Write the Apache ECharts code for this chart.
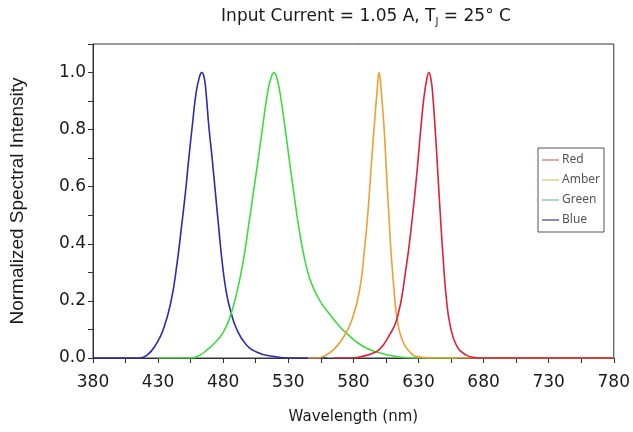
<!DOCTYPE html>
<html>
<head>
<meta charset="utf-8">
<script src="https://cdn.jsdelivr.net/npm/echarts@6/dist/echarts.min.js"></script>
<style>
html,body{margin:0;padding:0;background:#fff;}
#c{width:633px;height:432px;}
</style>
</head>
<body>
<div id="c"></div>
<script>
// Series names
const seriesNames = ['Red', 'Amber', 'Green', 'Blue'];

// Blue spectrum (wavelength nm, normalized intensity)
const blueX = [380, 416, 422, 428, 434, 440, 444.5, 448, 451, 453.6, 456.2, 459.2, 461.8, 463.5, 465.3, 466.8, 469, 471.5, 474, 476.5, 479, 482.4, 486, 490, 496.8, 506, 518, 531, 560];
const blueY = [0, 0, 0.012, 0.045, 0.1, 0.2, 0.33, 0.46, 0.58, 0.70, 0.81, 0.93, 0.985, 1.0, 0.985, 0.93, 0.81, 0.70, 0.58, 0.46, 0.345, 0.23, 0.16, 0.105, 0.052, 0.02, 0.006, 0, 0];

// Green spectrum
const greenX = [430, 455, 462, 468, 474, 480, 485, 490.5, 495.6, 499.4, 503.2, 507, 510.3, 514.1, 517, 519, 521, 523.6, 527.4, 530.6, 534.2, 538, 542.6, 546, 550, 555, 562, 568, 574.4, 587, 600, 612, 625, 660];
const greenY = [0, 0, 0.01, 0.03, 0.055, 0.09, 0.14, 0.23, 0.345, 0.46, 0.58, 0.70, 0.81, 0.93, 0.985, 1.0, 0.985, 0.93, 0.81, 0.70, 0.58, 0.46, 0.345, 0.285, 0.238, 0.195, 0.152, 0.118, 0.088, 0.042, 0.018, 0.006, 0, 0];

// Amber spectrum
const amberX = [545, 552, 558, 565, 572, 579, 585, 588.5, 591, 594, 596.5, 598.3, 599.7, 601.3, 603.5, 605.3, 607, 608.8, 611, 613.5, 617.5, 624, 630, 640, 780];
const amberY = [0, 0, 0.008, 0.03, 0.07, 0.135, 0.245, 0.38, 0.5, 0.69, 0.84, 0.94, 1.0, 0.94, 0.81, 0.66, 0.52, 0.38, 0.25, 0.14, 0.064, 0.018, 0.004, 0, 0];

// Red spectrum
const redX = [565, 578, 586, 594, 600, 607, 613.7, 620, 625, 629, 631.5, 634, 636.3, 638, 639.6, 640.8, 643, 645, 647, 649, 651.5, 654.5, 659.6, 666, 673, 680, 780];
const redY = [0, 0, 0.005, 0.015, 0.03, 0.075, 0.14, 0.30, 0.48, 0.66, 0.79, 0.905, 0.975, 1.0, 0.975, 0.93, 0.79, 0.637, 0.485, 0.345, 0.205, 0.111, 0.04, 0.012, 0.002, 0, 0];

// Axis ticks
const xTickMin = 380, xTickMax = 780, xTickStep = 25, xLabelStep = 50;
const yTickMin = 0, yTickMax = 1.1, yTickStep = 0.1;

// Title
const titleText = 'Input Current = 1.05 A, T{s|J} = 25° C';

const colors = {Red: '#e0203a', Amber: '#efa02e', Green: '#3ddc3d', Blue: '#2b2bb0'};
const legendColors = {Red: '#d86a6a', Amber: '#e8c060', Green: '#70c890', Blue: '#3c3c98'};

function pairs(xs, ys) { return xs.map((x, i) => [x, ys[i]]); }
const dataMap = {
  Red: pairs(redX, redY),
  Amber: pairs(amberX, amberY),
  Green: pairs(greenX, greenY),
  Blue: pairs(blueX, blueY)
};

const fontH = '"DejaVu Sans", sans-serif';
const fontV = '"Liberation Sans", Arial, sans-serif';
const chart = echarts.init(document.getElementById('c'), null, {renderer: 'canvas'});

const drawOrder = ['Blue', 'Green', 'Amber', 'Red'];

chart.setOption({
  backgroundColor: '#ffffff',
  animation: false,
  graphic: [{
    type: 'text', x: 366, y: 17,
    style: {
      text: titleText, textAlign: 'center', textVerticalAlign: 'middle',
      font: '17px ' + fontH, fill: '#1a1a1a',
      rich: { s: { fontFamily: fontH, fontSize: 10, fill: '#1a1a1a', padding: [10, 0, 0, 0] } }
    }
  }],
  legend: {
    orient: 'vertical',
    left: 538, top: 148,
    data: seriesNames.map(n => ({ name: n, itemStyle: { color: legendColors[n] } })),
    icon: 'rect',
    itemWidth: 17, itemHeight: 1.2,
    itemGap: 6,
    padding: [5, 4, 5, 4],
    borderColor: '#555', borderWidth: 1,
    textStyle: { fontFamily: '"Noto Sans", "DejaVu Sans", sans-serif', fontSize: 12, color: '#555', lineHeight: 14, padding: [0, 0, 0, -2] }
  },
  grid: { left: 92, right: 16, top: 44, bottom: 74, show: true, borderColor: '#333', borderWidth: 1 },
  xAxis: {
    type: 'value', min: xTickMin, max: xTickMax, interval: xTickStep,
    name: 'Wavelength (nm)', nameLocation: 'middle', nameGap: 52,
    nameTextStyle: { fontFamily: fontH, fontSize: 15, color: '#1a1a1a' },
    axisLine: { show: true, onZero: false, lineStyle: { color: '#333', width: 1 } },
    axisTick: { show: true, inside: false, length: 5, lineStyle: { color: '#333' } },
    axisLabel: {
      fontFamily: fontH, fontSize: 17, color: '#1a1a1a', margin: 16,
      formatter: v => ((v - xTickMin) % xLabelStep === 0 ? String(v) : '')
    },
    splitLine: { show: false }
  },
  yAxis: {
    type: 'value', min: yTickMin, max: yTickMax, interval: yTickStep,
    name: 'Normalized Spectral Intensity', nameLocation: 'middle', nameGap: 66,
    nameTextStyle: { fontFamily: fontV, fontSize: 19, color: '#1a1a1a' },
    axisLine: { show: true, lineStyle: { color: '#333', width: 1 } },
    axisTick: { show: true, inside: false, length: 5, lineStyle: { color: '#333' } },
    axisLabel: {
      fontFamily: fontH, fontSize: 17, color: '#1a1a1a', margin: 7,
      formatter: v => { const k = Math.round(v * 10); return (k % 2 === 0 && k <= 10) ? (k / 10).toFixed(1) : ''; }
    },
    splitLine: { show: false }
  },
  series: drawOrder.map(n => ({
    name: n, type: 'line', data: dataMap[n],
    showSymbol: false, symbol: 'none',
    smooth: 0.5,
    lineStyle: { color: colors[n], width: 1.6 },
    itemStyle: { color: colors[n] }
  }))
});
</script>
</body>
</html>
